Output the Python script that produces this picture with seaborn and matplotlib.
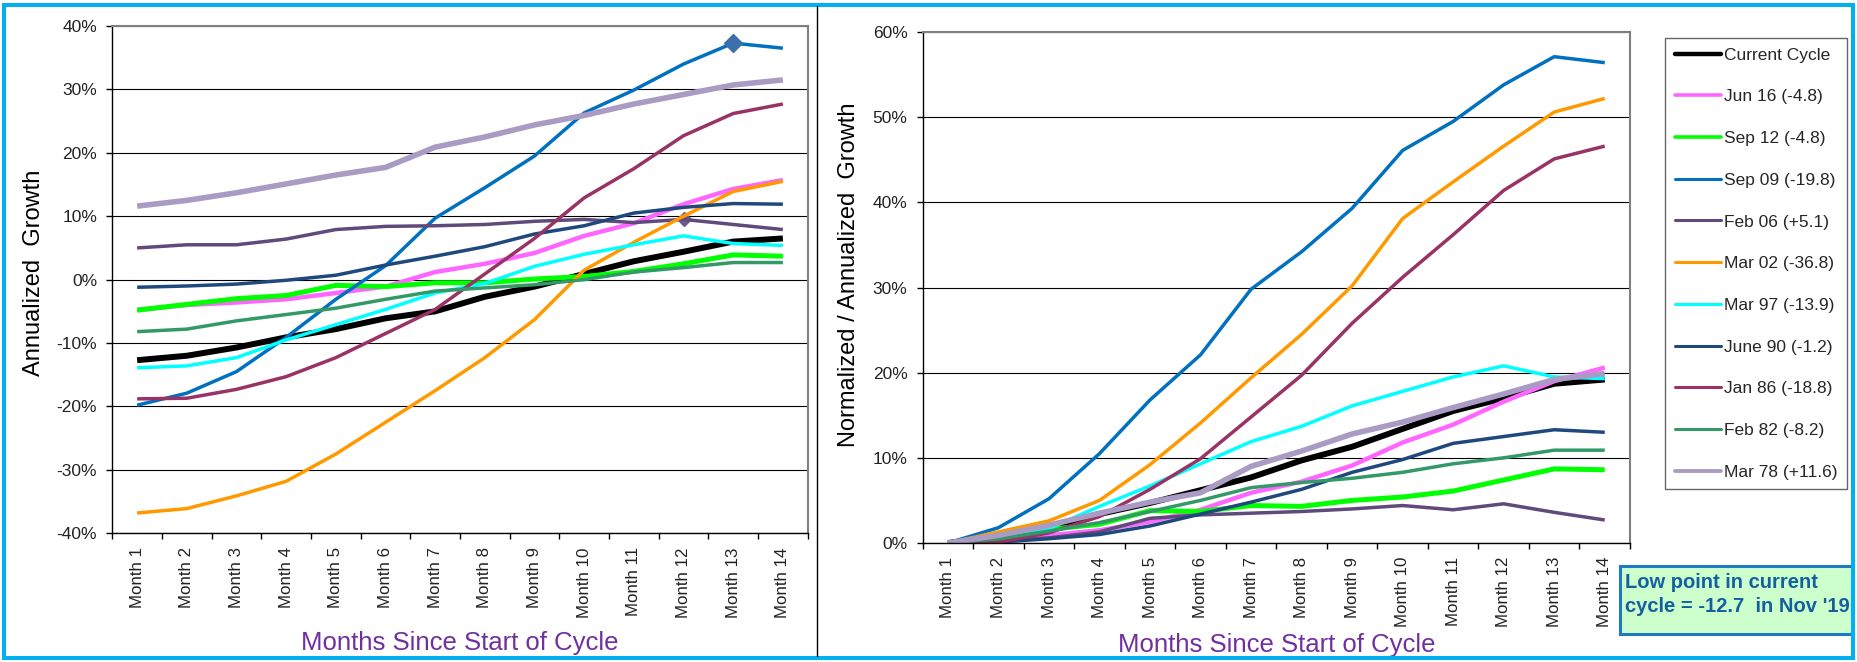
import numpy as np
import pandas as pd
import matplotlib
matplotlib.use("Agg")
import matplotlib.pyplot as plt
import seaborn as sns
from matplotlib.lines import Line2D
from matplotlib.patches import Rectangle
from matplotlib.ticker import FuncFormatter, FixedLocator

sns.set_style("white")
plt.rcParams['font.family'] = ['Liberation Sans', 'DejaVu Sans']

# ---------------- data ----------------
months = ["Month 1", "Month 2", "Month 3", "Month 4", "Month 5", "Month 6", "Month 7",
          "Month 8", "Month 9", "Month 10", "Month 11", "Month 12", "Month 13", "Month 14"]

labels = ["Current Cycle", "Jun 16 (-4.8)", "Sep 12 (-4.8)", "Sep 09 (-19.8)", "Feb 06 (+5.1)",
          "Mar 02 (-36.8)", "Mar 97 (-13.9)", "June 90 (-1.2)", "Jan 86 (-18.8)",
          "Feb 82 (-8.2)", "Mar 78 (+11.6)"]

# Left chart: annualized growth (%)
current_L = [-12.7, -12.0, -10.7, -9.1, -7.8, -6.1, -5.0, -2.7, -1.1, 0.9, 2.9, 4.4, 6.0, 6.5]
jun16_L = [-4.8, -4.0, -3.6, -3.1, -2.1, -1.1, 1.2, 2.5, 4.2, 6.9, 8.9, 11.9, 14.3, 15.7]
sep12_L = [-4.8, -3.9, -3.0, -2.5, -0.9, -1.1, -0.5, -0.5, 0.1, 0.5, 1.3, 2.5, 3.9, 3.7]
sep09_L = [-19.8, -17.9, -14.5, -9.1, -3.1, 2.2, 9.7, 14.5, 19.5, 26.3, 29.9, 34.0, 37.3, 36.5]
feb06_L = [5.0, 5.5, 5.5, 6.4, 7.9, 8.4, 8.5, 8.7, 9.2, 9.5, 9.0, 9.5, 8.7, 7.9]
mar02_L = [-36.8, -36.1, -34.1, -31.8, -27.5, -22.5, -17.5, -12.3, -6.3, 1.5, 5.9, 10.0, 13.9, 15.5]
mar97_L = [-13.9, -13.6, -12.3, -9.5, -7.1, -4.7, -2.1, -0.6, 2.1, 4.0, 5.5, 6.9, 5.7, 5.4]
jun90_L = [-1.2, -1.0, -0.7, -0.1, 0.7, 2.3, 3.7, 5.2, 7.2, 8.5, 10.5, 11.4, 12.0, 11.9]
jan86_L = [-18.8, -18.7, -17.3, -15.3, -12.3, -8.5, -4.7, 0.9, 6.5, 12.9, 17.5, 22.7, 26.2, 27.7]
feb82_L = [-8.2, -7.8, -6.5, -5.5, -4.5, -3.1, -1.8, -1.3, -0.8, 0.0, 1.2, 1.9, 2.7, 2.7]
mar78_L = [11.6, 12.5, 13.7, 15.1, 16.5, 17.7, 20.9, 22.5, 24.4, 25.9, 27.7, 29.2, 30.7, 31.5]

# Right chart: normalized / annualized growth (%)
current_R = [0, 0.7, 1.9, 3.4, 4.7, 6.2, 7.7, 9.7, 11.3, 13.4, 15.5, 17.0, 18.7, 19.2]
jun16_R = [0, 0.3, 0.9, 1.5, 2.5, 3.9, 5.9, 7.2, 9.1, 11.8, 13.9, 16.6, 19.0, 20.6]
sep12_R = [0, 0.6, 1.6, 2.2, 3.8, 3.7, 4.4, 4.3, 5.0, 5.4, 6.1, 7.4, 8.7, 8.6]
sep09_R = [0, 1.8, 5.2, 10.5, 16.8, 22.1, 29.8, 34.2, 39.3, 46.1, 49.5, 53.8, 57.1, 56.4]
feb06_R = [0, 0.3, 0.6, 1.3, 2.9, 3.3, 3.5, 3.7, 4.0, 4.4, 3.9, 4.6, 3.6, 2.7]
mar02_R = [0, 1.3, 2.6, 5.0, 9.2, 14.1, 19.4, 24.5, 30.2, 38.1, 42.4, 46.6, 50.6, 52.2]
mar97_R = [0, 0.4, 1.7, 4.3, 6.7, 9.3, 11.9, 13.7, 16.1, 17.8, 19.5, 20.8, 19.5, 19.3]
jun90_R = [0, 0.1, 0.5, 1.0, 2.0, 3.4, 4.8, 6.3, 8.3, 9.8, 11.7, 12.5, 13.3, 13.0]
jan86_R = [0, 0.1, 1.2, 3.1, 6.3, 9.9, 14.8, 19.7, 25.8, 31.2, 36.2, 41.4, 45.1, 46.6]
feb82_R = [0, 0.5, 1.4, 2.4, 3.7, 5.0, 6.5, 7.1, 7.6, 8.3, 9.3, 10.0, 10.9, 10.9]
mar78_R = [0, 0.9, 2.1, 3.5, 4.8, 5.9, 9.0, 10.8, 12.8, 14.2, 15.9, 17.5, 19.2, 19.9]

left_series = [current_L, jun16_L, sep12_L, sep09_L, feb06_L, mar02_L, mar97_L,
               jun90_L, jan86_L, feb82_L, mar78_L]
right_series = [current_R, jun16_R, sep12_R, sep09_R, feb06_R, mar02_R, mar97_R,
                jun90_R, jan86_R, feb82_R, mar78_R]

# ---------------- styles ----------------
colors = ["#000000", "#FF66FF", "#00FF00", "#0070C0", "#604A7B", "#FF9900",
          "#00FFFF", "#1F497D", "#993366", "#339966", "#A99BC3"]
widths = [4.3, 3.2, 3.6, 2.5, 2.5, 2.5, 2.5, 2.5, 2.5, 2.5, 4.0]
leg_widths = [3.2, 2.6, 2.6, 2.2, 2.2, 2.2, 2.2, 2.2, 2.2, 2.2, 2.8]

W, H = 1858, 662
fig = plt.figure(figsize=(W / 100, H / 100), dpi=100)
ax1 = fig.add_axes([112.3 / W, 1 - 533.3 / H, 695.4 / W, 507.3 / H])
ax2 = fig.add_axes([922.7 / W, 1 - 543 / H, 707.3 / W, 511 / H])

for ax, series in ((ax1, left_series), (ax2, right_series)):
    for vals, c, lw in zip(series, colors, widths):
        df = pd.DataFrame({"month": months, "value": vals})
        sns.lineplot(data=df, x="month", y="value", ax=ax, color=c, linewidth=lw,
                     sort=False, legend=False, solid_capstyle="butt")

# highlighted points (diamond markers)
ax1.plot([months[12]], [sep09_L[12]], marker="D", ms=9.5, color="#3F6FAA",
         linestyle="none", zorder=5)
ax1.plot([months[11]], [feb06_L[11]], marker="D", ms=7, color="#6A5A8C",
         linestyle="none", zorder=1.5)

pct = FuncFormatter(lambda v, _: f"{v:.0f}%")
for ax, (lo, hi) in ((ax1, (-40, 40)), (ax2, (0, 60))):
    ax.set_xlim(-0.5, len(months) - 0.5)
    ax.set_ylim(lo, hi)
    ax.set_yticks(np.arange(lo, hi + 1, 10))
    ax.yaxis.set_major_formatter(pct)
    ax.xaxis.set_minor_locator(FixedLocator(np.arange(-0.5, len(months), 1.0)))
    ax.tick_params(axis="x", which="major", length=0, pad=10, labelsize=12.2,
                   rotation=90, labelcolor="#222222")
    ax.tick_params(axis="x", which="minor", length=4, width=1, color="black",
                   direction="out", bottom=True)
    ax.tick_params(axis="y", which="major", length=4, width=1, color="black",
                   direction="out", left=True, pad=7, labelsize=12.5, labelcolor="#222222")
    ax.yaxis.grid(True, color="black", linewidth=0.8)
    ax.xaxis.grid(False)
    ax.set_axisbelow(True)
    for s in ("top", "right"):
        ax.spines[s].set_color("#808080")
        ax.spines[s].set_linewidth(1.5)
    for s in ("left", "bottom"):
        ax.spines[s].set_color("black")
        ax.spines[s].set_linewidth(1.0)
    ax.set_xlabel("Months Since Start of Cycle", fontsize=18.5, color="#7030A0", va="center")

ax1.set_ylabel("Annualized  Growth", fontsize=17, color="black", va="center")
ax2.set_ylabel("Normalized / Annualized  Growth", fontsize=17, color="black", va="center")
ax1.xaxis.set_label_coords(0.5, (533.3 - 643) / 507.3)
ax2.xaxis.set_label_coords(0.5, (543 - 645) / 511)
ax1.yaxis.set_label_coords((34 - 112.3) / 695.4, 0.514)
ax2.yaxis.set_label_coords((849 - 922.7) / 707.3, 0.525)

# legend
handles = [Line2D([], [], color=c, lw=lw) for c, lw in zip(colors, leg_widths)]
leg = fig.legend(handles, labels, loc="upper left", bbox_to_anchor=(1665 / W, 1 - 38 / H),
                 fontsize=12.5, frameon=True, fancybox=False, edgecolor="#404040",
                 handlelength=2.7, handletextpad=0.15, labelspacing=1.53,
                 borderpad=0.55, borderaxespad=0)
leg.get_frame().set_linewidth(1.0)

# annotation box
fig.add_artist(Rectangle((1620 / W, 1 - 634 / H), 233 / W, 68 / H, transform=fig.transFigure,
                         facecolor="#CCFFCC", edgecolor="#1F7BC0", lw=2.2))
fig.text(1625 / W, 1 - 583 / H, "Low point in current", fontsize=14.5, fontweight="bold",
         color="#14609F", va="center", ha="left")
fig.text(1625 / W, 1 - 607 / H, "cycle = -12.7  in Nov '19", fontsize=14.5, fontweight="bold",
         color="#14609F", va="center", ha="left")

# frame and divider
fig.add_artist(Rectangle((4.5 / W, 4.5 / H), (W - 9) / W, (H - 9) / H, transform=fig.transFigure,
                         fill=False, edgecolor="#00B0F0", lw=2.9))
fig.add_artist(Line2D([817.5 / W, 817.5 / W], [6 / H, 1 - 6 / H], color="black", lw=1,
                      transform=fig.transFigure))

fig.savefig("out.png", dpi=100)
